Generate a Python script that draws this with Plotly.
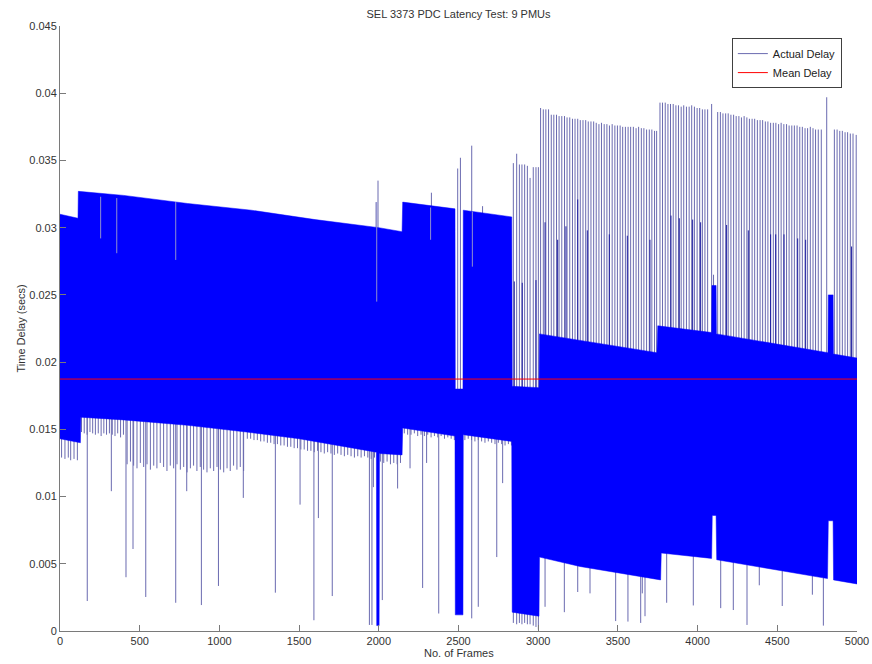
import plotly.graph_objects as go

# ---------------- data ----------------
TITLE = "SEL 3373 PDC Latency Test: 9 PMUs"
X_LABEL = "No. of Frames"
Y_LABEL = "Time Delay (secs)"
X_TICKS = [0, 500, 1000, 1500, 2000, 2500, 3000, 3500, 4000, 4500, 5000]
Y_TICKS = [0, 0.005, 0.01, 0.015, 0.02, 0.025, 0.03, 0.035, 0.04, 0.045]
Y_TICK_TEXT = ["0", "0.005", "0.01", "0.015", "0.02", "0.025", "0.03", "0.035", "0.04", "0.045"]

MEAN_DELAY = 0.01874
N_FRAMES = 5000

# dense oscillation band: upper envelope
UPPER_X = [0, 113, 115, 400, 800, 1200, 1600, 2000, 2146, 2150, 2478, 2480, 2528, 2530, 2834,
           2837, 3005, 3008, 3745, 3750, 4088, 4090, 4116, 4118, 4818, 4820, 4850, 4852, 5000]
UPPER_Y = [0.0310, 0.0307, 0.0327, 0.0324, 0.0318, 0.0313, 0.0306, 0.0300, 0.0297, 0.0319, 0.0314,
           0.0180, 0.0180, 0.0313, 0.0308, 0.0182, 0.0181, 0.0221, 0.0207, 0.0227, 0.0222, 0.0257,
           0.0257, 0.0221, 0.0207, 0.0250, 0.0250, 0.0206, 0.0203]
# dense oscillation band: lower envelope
LOWER_X = [0, 128, 131, 400, 800, 1170, 1500, 1985, 1987, 2002, 2004, 2146, 2150, 2478, 2480, 2528,
           2530, 2834, 2837, 3005, 3008, 3262, 3768, 3772, 4088, 4092, 4116, 4120, 4815, 4820, 4850,
           4853, 5000]
LOWER_Y = [0.0143, 0.0140, 0.0159, 0.0157, 0.0153, 0.0148, 0.0143, 0.0133, 0.0004, 0.0004, 0.0132,
           0.0131, 0.0151, 0.0145, 0.0012, 0.0012, 0.0146, 0.0141, 0.0014, 0.0011, 0.0055, 0.0048,
           0.0038, 0.0058, 0.0054, 0.0086, 0.0086, 0.0053, 0.0039, 0.0082, 0.0082, 0.0038, 0.0035]

# periodic upward spikes (frames 2844-5000)
UP_COMB_X = [2844, 2865, 2882, 2898, 2915, 2932, 2949, 2969, 2986, 3001,
             3015, 3032, 3048, 3065, 3082, 3098, 3115, 3131, 3148, 3165, 3181, 3198, 3215, 3231,
             3248, 3264, 3281, 3298, 3314, 3331, 3348, 3364, 3381, 3397, 3414, 3431, 3447, 3464,
             3481, 3497, 3514, 3530, 3547, 3564, 3580, 3597, 3614, 3630, 3647, 3663, 3680, 3697,
             3713, 3730, 3743,
             3764, 3780, 3797, 3814, 3830, 3847, 3864, 3880, 3897, 3913, 3930, 3947, 3963, 3980,
             3997, 4013, 4030, 4046, 4063, 4088,
             4126, 4143, 4159, 4176, 4192, 4209, 4226, 4242, 4259, 4275, 4292, 4309, 4325, 4342,
             4358, 4375, 4392, 4408, 4425, 4441, 4458, 4475, 4491, 4508, 4524, 4541, 4558, 4574,
             4591, 4607, 4624, 4641, 4657, 4674, 4690, 4707, 4724, 4740, 4757, 4776,
             4810,
             4858, 4875, 4892, 4908, 4925, 4941, 4958, 4975, 4995]
UP_COMB_TOP = [0.0348, 0.0355, 0.0347, 0.0347, 0.0347, 0.0346, 0.0337, 0.0345, 0.0345, 0.0345,
               0.0389, 0.0388, 0.0388, 0.0388, 0.0384, 0.0384, 0.0384, 0.0383, 0.0383, 0.0383,
               0.0382, 0.0382, 0.0381, 0.0381, 0.0381, 0.0380, 0.0380, 0.0380, 0.0379, 0.0379,
               0.0379, 0.0378, 0.0377, 0.0378, 0.0377, 0.0377, 0.0376, 0.0377, 0.0376, 0.0376,
               0.0376, 0.0375, 0.0375, 0.0375, 0.0375, 0.0375, 0.0374, 0.0375, 0.0374, 0.0374,
               0.0373, 0.0373, 0.0373, 0.0372, 0.0372,
               0.0393, 0.0393, 0.0393, 0.0392, 0.0392, 0.0392, 0.0391, 0.0391, 0.0390, 0.0391,
               0.0390, 0.0390, 0.0391, 0.0390, 0.0389, 0.0389, 0.0388, 0.0388, 0.0388, 0.0392,
               0.0386, 0.0386, 0.0385, 0.0385, 0.0385, 0.0384, 0.0384, 0.0383, 0.0383, 0.0382,
               0.0383, 0.0382, 0.0381, 0.0381, 0.0381, 0.0380, 0.0380, 0.0380, 0.0379, 0.0379,
               0.0378, 0.0378, 0.0378, 0.0377, 0.0378, 0.0377, 0.0377, 0.0376, 0.0376, 0.0376,
               0.0376, 0.0375, 0.0375, 0.0374, 0.0374, 0.0375, 0.0374, 0.0373, 0.0373, 0.0373,
               0.0397,
               0.0373, 0.0373, 0.0372, 0.0372, 0.0371, 0.0371, 0.0370, 0.0370, 0.0369]

# periodic downward spikes below the band
LOW_COMB_X = [10, 31, 52, 67, 88, 109,
              135, 152, 170, 188, 205, 222, 240, 258, 275, 292, 310, 328, 345, 362, 380, 398,
              421, 442, 462, 483, 504, 525, 546, 567, 588, 608, 629, 650, 671, 692, 713, 734,
              755, 776, 797, 818, 838, 859, 880, 901, 922, 943, 964, 985, 1006, 1027, 1048, 1068,
              1089, 1110, 1131, 1152,
              1175, 1196, 1217, 1238, 1259, 1280, 1301, 1322, 1343, 1364, 1385, 1406, 1427, 1448,
              1469, 1490, 1511, 1532, 1553, 1574, 1595, 1616, 1637, 1658, 1679, 1700, 1721, 1742,
              1763, 1784, 1805, 1826, 1847, 1868, 1889, 1910, 1931, 1952, 1973,
              2010, 2031, 2052, 2073, 2094, 2115, 2136,
              2160, 2181, 2202, 2223, 2244, 2265, 2286, 2307, 2328, 2349, 2370, 2391, 2412, 2433,
              2454, 2474,
              2540, 2561, 2582, 2603, 2624, 2645, 2666, 2687, 2708, 2729, 2750, 2771, 2792, 2813, 2832,
              2844, 2865, 2882, 2898, 2915, 2932, 2949, 2969, 2986, 3001]
LOW_COMB_TIP = [0.0129, 0.0128, 0.0129, 0.0127, 0.0128, 0.0127,
                0.0148, 0.0147, 0.0146, 0.0148, 0.0147, 0.0146, 0.0147, 0.0145, 0.0147, 0.0146,
                0.0147, 0.0146, 0.0145, 0.0147, 0.0144, 0.0146,
                0.0124, 0.0126, 0.0123, 0.0121, 0.0125, 0.0122, 0.0124, 0.0120, 0.0123, 0.0121,
                0.0125, 0.0122, 0.0119, 0.0123, 0.0121, 0.0124, 0.0120, 0.0122, 0.0118, 0.0121,
                0.0123, 0.0119, 0.0122, 0.0120, 0.0118, 0.0121, 0.0119, 0.0122, 0.0120, 0.0118,
                0.0121, 0.0119, 0.0123, 0.0120, 0.0122, 0.0119,
                0.0143, 0.0143, 0.0142, 0.0142, 0.0141, 0.0141, 0.0140, 0.0140, 0.0139, 0.0139,
                0.0138, 0.0138, 0.0137, 0.0137, 0.0136, 0.0136, 0.0135, 0.0135, 0.0134, 0.0134,
                0.0133, 0.0134, 0.0133, 0.0132, 0.0133, 0.0132, 0.0131, 0.0132, 0.0131, 0.0130,
                0.0131, 0.0130, 0.0129, 0.0130, 0.0129, 0.0130, 0.0129, 0.0128, 0.0129,
                0.0126, 0.0125, 0.0126, 0.0124, 0.0125, 0.0124, 0.0125,
                0.0147, 0.0146, 0.0146, 0.0147, 0.0145, 0.0146, 0.0145, 0.0146, 0.0144, 0.0145,
                0.0144, 0.0145, 0.0143, 0.0144, 0.0143, 0.0142,
                0.0142, 0.0143, 0.0142, 0.0141, 0.0142, 0.0141, 0.0140, 0.0141, 0.0140, 0.0139,
                0.0140, 0.0139, 0.0138, 0.0139, 0.0138,
                0.0006, 0.0005, 0.0006, 0.0005, 0.0006, 0.0005, 0.0005, 0.0004, 0.0003, 0.0001]

# isolated large downward outliers
DOWN_OUT_X = [171, 322, 414, 458, 538, 726, 795, 887, 994, 1150, 1351, 1506, 1593, 1621, 1708,
              1941, 1957, 1966, 2022, 2118, 2196, 2275, 2300, 2376, 2583, 2624, 2740, 2777, 3043,
              3164, 3248, 3325, 3486, 3563, 3643, 3653, 3670, 3806, 3973, 4145, 4224, 4310, 4387,
              4531, 4720, 4789]
DOWN_OUT_TIP = [0.00223, 0.0104, 0.0040, 0.0061, 0.00253, 0.0021, 0.0104, 0.00193, 0.00335, 0.0099,
                0.00285, 0.0094, 0.0008, 0.0084, 0.0026, 0.00045, 0.00045, 0.0107, 0.0023, 0.0106,
                0.0121, 0.0032, 0.0125, 0.0013, 0.00094, 0.0018, 0.0055, 0.0110, 0.0018, 0.0014,
                0.0029, 0.0028, 0.00074, 0.0007, 0.0006, 0.0028, 0.0011, 0.0021, 0.0019, 0.0017,
                0.00156, 0.00045, 0.0034, 0.00186, 0.0027, 0.0004]

# isolated upward outliers
UP_OUT_X = [1983, 1995, 2330, 2495, 2512, 2583, 2651, 4100]
UP_OUT_TOP = [0.0319, 0.0335, 0.0326, 0.0344, 0.0352, 0.0361, 0.0316, 0.0265]

# secondary (darker) upward spikes inside the comb region
DARK_UP_X = [2850, 2900, 2986, 3043, 3122, 3174, 3248, 3308, 3446, 3559, 3701, 3833, 3885, 3969,
             4019, 4182, 4318, 4458, 4490, 4542, 4628, 4678, 4966]
DARK_UP_TOP = [0.0260, 0.0259, 0.0261, 0.0304, 0.0291, 0.0301, 0.0321, 0.0298, 0.0295, 0.0294,
               0.0291, 0.0309, 0.0307, 0.0306, 0.0304, 0.0302, 0.0298, 0.0295, 0.0295, 0.0295,
               0.0292, 0.0291, 0.0286]

# short dips visible as light lines inside the band
NOTCH_X = [255, 356, 726, 1987, 2325, 2587]
NOTCH_FROM = [0.0323, 0.0322, 0.0319, 0.0319, 0.0315, 0.0312]
NOTCH_TO = [0.0292, 0.0281, 0.0276, 0.0245, 0.0291, 0.0271]

SPIKE_BASE = 0.017  # inside the band everywhere


def segments(xs, y0s, y1s):
    sx, sy = [], []
    for x, a, b in zip(xs, y0s, y1s):
        sx += [x, x, None]
        sy += [a, b, None]
    return sx, sy


SPIKE_COLOR = "#6a6ab0"
fig = go.Figure()

# all spikes (drawn first so that the band hides their inner part)
ax, ay = [], []
for xs, tips in [(UP_COMB_X, UP_COMB_TOP), (LOW_COMB_X, LOW_COMB_TIP),
                 (DOWN_OUT_X, DOWN_OUT_TIP), (UP_OUT_X, UP_OUT_TOP)]:
    sx, sy = segments(xs, [SPIKE_BASE] * len(xs), tips)
    ax += sx
    ay += sy
fig.add_trace(go.Scatter(x=ax, y=ay, mode="lines", name="Actual Delay",
                         line=dict(color=SPIKE_COLOR, width=1), hoverinfo="skip"))

dx, dy = segments(DARK_UP_X, [SPIKE_BASE] * len(DARK_UP_X), DARK_UP_TOP)
fig.add_trace(go.Scatter(x=dx, y=dy, mode="lines", showlegend=False,
                         line=dict(color="#1c1ca0", width=1), hoverinfo="skip"))

# dense band
band_x = UPPER_X + LOWER_X[::-1]
band_y = UPPER_Y + LOWER_Y[::-1]
fig.add_trace(go.Scatter(x=band_x, y=band_y, mode="lines", fill="toself",
                         fillcolor="#0000ff", line=dict(color="#0000ff", width=0.5),
                         showlegend=False, hoverinfo="skip"))

nx, ny = segments(NOTCH_X, NOTCH_FROM, NOTCH_TO)
fig.add_trace(go.Scatter(x=nx, y=ny, mode="lines", showlegend=False,
                         line=dict(color="#8f8fd0", width=1), hoverinfo="skip"))

fig.add_trace(go.Scatter(x=[0, N_FRAMES], y=[MEAN_DELAY, MEAN_DELAY], mode="lines",
                         name="Mean Delay", line=dict(color="#ff0000", width=1),
                         hoverinfo="skip"))

FONT = "Liberation Sans, Arial, Helvetica, sans-serif"
AXIS_COLOR = "#7a7a7a"
fig.update_layout(
    width=872, height=664,
    margin=dict(l=60, r=15, t=26, b=33, autoexpand=False),
    paper_bgcolor="white", plot_bgcolor="white",
    font=dict(family=FONT, size=11, color="#333333"),
    title=dict(text=TITLE, x=0.5, xref="paper", y=1 - 14 / 664, yref="container",
               xanchor="center", yanchor="middle", font=dict(size=11, color="#333333")),
    showlegend=True,
    legend=dict(x=0.981, y=0.980, xanchor="right", yanchor="top", bgcolor="white",
                bordercolor="#404040", borderwidth=1, font=dict(size=11, color="#222222"),
                tracegroupgap=0, itemwidth=30),
    xaxis=dict(range=[0, N_FRAMES], tickvals=X_TICKS, ticks="inside", ticklen=6,
               tickcolor=AXIS_COLOR, showline=True, linecolor=AXIS_COLOR, linewidth=1,
               showgrid=False, zeroline=False, automargin=False,
               tickfont=dict(size=11, color="#333333")),
    yaxis=dict(range=[0, 0.045], tickvals=Y_TICKS, ticktext=Y_TICK_TEXT, ticks="inside",
               ticklen=6, tickcolor=AXIS_COLOR, showline=True, linecolor=AXIS_COLOR,
               linewidth=1, showgrid=False, zeroline=False, automargin=False,
               tickfont=dict(size=11, color="#333333")),
    annotations=[
        dict(text=X_LABEL, x=0.5, y=-22 / 605, xref="paper", yref="paper",
             xanchor="center", yanchor="middle", showarrow=False,
             font=dict(size=11, color="#333333")),
        dict(text=Y_LABEL, x=-40 / 797, y=0.5, xref="paper", yref="paper",
             xanchor="center", yanchor="middle", textangle=-90, showarrow=False,
             font=dict(size=11, color="#333333")),
    ],
)

fig.write_html("out.html")
